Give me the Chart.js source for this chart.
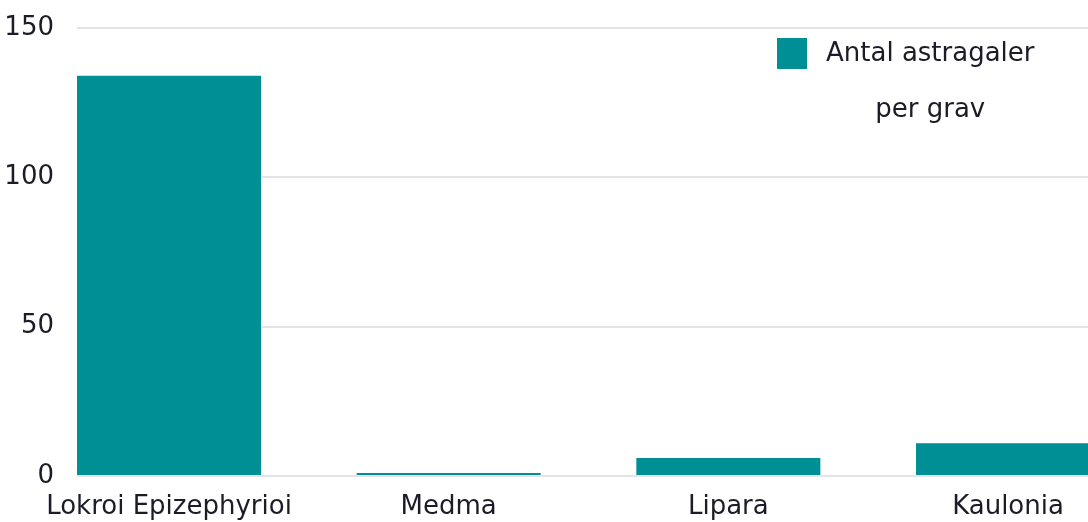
<!DOCTYPE html>
<html>
<head>
<meta charset="utf-8">
<script src="https://cdn.jsdelivr.net/npm/chart.js@4.4.1/dist/chart.umd.min.js"></script>
<style>
  html, body { margin: 0; padding: 0; background: #ffffff; }
  #wrap { width: 1088px; height: 522px; }
</style>
</head>
<body>
<div id="wrap"><canvas id="c" width="1088" height="522"></canvas></div>
<script>
const categories = ['Lokroi Epizephyrioi', 'Medma', 'Lipara', 'Kaulonia'];
const values = [134, 1, 6, 11];
const yTicks = [0, 50, 100, 150];
const legendLines = ['Antal astragaler', 'per grav'];

const BAR_COLOR = '#008f94';
const TEXT_COLOR = '#1c1c28';
const GRID_COLOR = '#e3e4e8';
const FONT_FAMILY = '"DejaVu Sans", sans-serif';
const FONT_SIZE = 26;

const legendPlugin = {
  id: 'floatLegend',
  afterDraw(chart) {
    const ctx = chart.ctx;
    const area = chart.chartArea;
    const boxX = area.right - 311, boxY = area.top + 10, boxS = 30;
    ctx.save();
    ctx.fillStyle = BAR_COLOR;
    ctx.fillRect(boxX, boxY, boxS, boxS + 1);
    ctx.font = FONT_SIZE + 'px ' + FONT_FAMILY;
    ctx.fillStyle = TEXT_COLOR;
    ctx.textBaseline = 'middle';
    ctx.textAlign = 'left';
    const tx = boxX + boxS + 19;
    ctx.fillText(legendLines[0], tx, boxY + 16);
    const w = ctx.measureText(legendLines[0]).width;
    ctx.textAlign = 'center';
    ctx.fillText(legendLines[1], tx + w / 2, boxY + 72);
    ctx.restore();
  }
};

new Chart(document.getElementById('c'), {
  type: 'bar',
  data: {
    datasets: [{
      label: legendLines.join(' '),
      data: categories.map((c, i) => ({ x: i, y: values[i] })),
      backgroundColor: BAR_COLOR,
      borderWidth: 0,
      categoryPercentage: 1,
      barPercentage: 0.658
    }]
  },
  options: {
    responsive: false,
    devicePixelRatio: 1,
    animation: false,
    layout: { padding: { top: 28, left: 0, right: 0, bottom: 0 } },
    plugins: { legend: { display: false }, tooltip: { enabled: false } },
    scales: {
      x: {
        type: 'linear',
        offset: false,
        min: -0.329,
        max: 3.286,
        grid: { display: false, drawTicks: false, offset: false },
        border: { display: false },
        afterBuildTicks(scale) { scale.ticks = categories.map((c, i) => ({ value: i })); },
        afterFit(scale) { scale.height = 46; scale.paddingLeft = 0; scale.paddingRight = 0; },
        ticks: {
          padding: 16,
          autoSkip: false,
          maxRotation: 0,
          color: TEXT_COLOR,
          font: { family: FONT_FAMILY, size: FONT_SIZE },
          callback: (v) => categories[v] ?? ''
        }
      },
      y: {
        min: 0,
        max: 150,
        afterBuildTicks(scale) { scale.ticks = yTicks.map(v => ({ value: v })); },
        afterFit(scale) { scale.width = 77; scale.paddingTop = 0; scale.paddingBottom = 0; },
        grid: { color: GRID_COLOR, lineWidth: 2, drawTicks: false },
        border: { display: false },
        ticks: {
          padding: 23,
          color: TEXT_COLOR,
          font: { family: FONT_FAMILY, size: FONT_SIZE }
        }
      }
    }
  },
  plugins: [legendPlugin]
});
</script>
</body>
</html>
